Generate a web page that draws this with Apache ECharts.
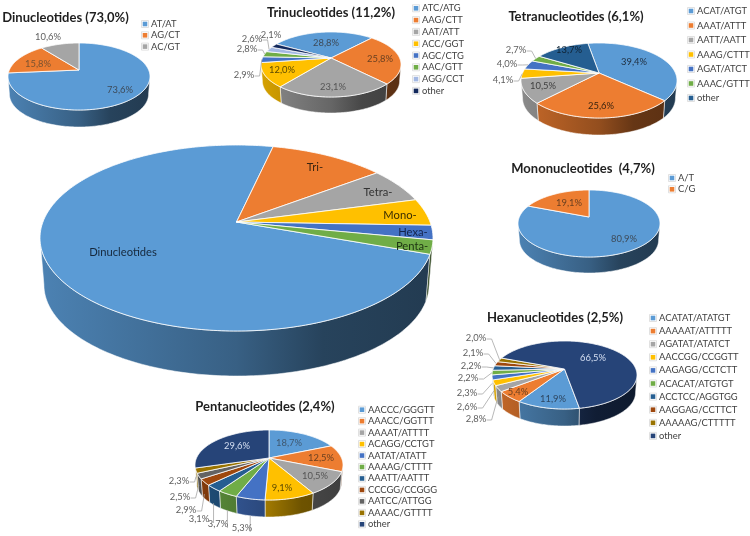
<!DOCTYPE html>
<html><head><meta charset="utf-8">
<script src="https://cdn.jsdelivr.net/npm/echarts@6/dist/echarts.min.js"></script>
<style>html,body{margin:0;padding:0;background:#fff}#c{width:750px;height:536px}</style>
</head><body><div id="c"></div>
<script>
// ---------- data ----------
const overviewNames = ['Dinucleotides','Tri-','Tetra-','Mono-','Hexa-','Penta-'];
const overviewValues = [73.0,11.2,6.1,4.7,2.5,2.4];
const diNames = ['AT/AT','AG/CT','AC/GT'];
const diValues = [73.6,15.8,10.6];
const triNames = ['ATC/ATG','AAG/CTT','AAT/ATT','ACC/GGT','AGC/CTG','AAC/GTT','AGG/CCT','other'];
const triValues = [28.8,25.8,23.1,12.0,2.9,2.8,2.6,2.1];
const tetraNames = ['ACAT/ATGT','AAAT/ATTT','AATT/AATT','AAAG/CTTT','AGAT/ATCT','AAAC/GTTT','other'];
const tetraValues = [39.4,25.6,10.5,4.1,4.0,2.7,13.7];
const monoNames = ['A/T','C/G'];
const monoValues = [80.9,19.1];
const hexaNames = ['ACATAT/ATATGT','AAAAAT/ATTTTT','AGATAT/ATATCT','AACCGG/CCGGTT','AAGAGG/CCTCTT','ACACAT/ATGTGT','ACCTCC/AGGTGG','AAGGAG/CCTTCT','AAAAAG/CTTTTT','other'];
const hexaValues = [11.9,5.4,2.8,2.6,2.3,2.2,2.2,2.1,2.0,66.5];
const pentaNames = ['AACCC/GGGTT','AAACC/GGTTT','AAAAT/ATTTT','ACAGG/CCTGT','AATAT/ATATT','AAAAG/CTTTT','AAATT/AATTT','CCCGG/CCGGG','AATCC/ATTGG','AAAAC/GTTTT','other'];
const pentaValues = [18.7,12.5,10.5,9.1,5.3,3.7,3.1,2.9,2.5,2.3,29.6];

// ---------- styles ----------
const accent = ['#5B9BD5','#ED7D31','#A5A5A5','#FFC000','#4472C4','#70AD47','#255E91','#9E480E','#636363','#997300','#264478'];
const triColors = accent.slice(0,6).concat(['#A3B8E3','#12285C']);
const tetraColors = accent.slice(0,6).concat(['#255E91']);
const hexaColors = accent.slice(0,8).concat(['#997300','#264478']);
const FONT = 'Lato, "Open Sans", sans-serif';
const LBL = '#5f5f5f', LBLD = '#3d4a58', LIGHT = '#d5dff2';

// ---------- layout: ellipse box, apex height, wall bottom, first slice angle ----------
const pies = [
 {names:overviewNames,values:overviewValues,colors:accent,L:40,R:433,T:145,B:331,apex:222,W:376,start:-250.3,fs:11.2,
  labels:[[123,252,'#16283c'],[315,167,'#3a2410'],[378,192,'#333'],[400,215,'#3a2d00'],[413,232,'#14244c'],[412,246,'#1d3312']],raw:true},
 {title:'Dinucleotides (73,0%)',tx:65.5,ty:18,names:diNames,values:diValues,colors:accent,L:8,R:150,T:43,B:110,apex:70,W:127,start:0,
  labels:[[120,90,LBLD],[38,64,'#7a5230'],[48,37,LBL]],lx:145,ly:24,ls:11.3},
 {title:'Trinucleotides (11,2%)',tx:331,ty:13,names:triNames,values:triValues,colors:triColors,L:261,R:401,T:32,B:97,apex:58,W:113,start:-60.7,
  labels:[[326,43,LBLD],[380,59,'#6b4020'],[333,87,'#555'],[282,70,'#5c4a00'],[244,75,LBL,0],[247,49,LBL,0],[252,39,LBL,0],[271,35,LBL]],lx:416,ly:8.3,ls:11.8},
 {title:'Tetranucleotides (6,1%)',tx:576,ty:17,names:tetraNames,values:tetraValues,colors:tetraColors,L:521,R:677,T:43,B:118,apex:73,W:135,start:-10,
  labels:[[634,62,'#1f2d3d'],[601,106,'#3a2410'],[543,86,'#3f3f3f'],[503,80,LBL,0],[507,64,LBL,0],[516,50,LBL,0],[569,50,'#0f2233']],lx:691,ly:11,ls:14.5},
 {title:'Mononucleotides  (4,7%)',tx:583,ty:169,names:monoNames,values:monoValues,colors:accent,L:518,R:660,T:190,B:257,apex:217,W:273,start:0,
  labels:[[624,239,LBLD],[569,203,'#6b4020']],lx:672,ly:178,ls:11.3},
 {title:'Hexanucleotides (2,5%)',tx:555,ty:318,names:hexaNames,values:hexaValues,colors:hexaColors,L:492,R:637,T:341,B:409,apex:369,W:426,start:170,
  labels:[[553,399,'#2d4660'],[518,392,'#6b4020'],[476,419,LBL,8],[467,407,LBL,8],[467,393,LBL,6],[468,378,LBL,0],[471,366,LBL,0],[473,353,LBL,0],[476,338,LBL,0],[593,358,LIGHT]],lx:653,ly:318,ls:13.1},
 {title:'Pentanucleotides (2,4%)',tx:265,ty:407,names:pentaNames,values:pentaValues,colors:accent,L:195,R:343,T:430,B:500,apex:458,W:517,start:0,
  labels:[[289,443,'#3f5870'],[321,458,'#6b4020'],[315,476,'#555'],[282,488,'#5c4a00'],[242,528,LBL,17,'v'],[218,524,LBL,16,'v'],[199,519,LBL,15,'v'],[186,510,LBL,12],[180,497,LBL,9],[179,481,LBL,6],[237,446,LIGHT]],lx:362,ly:409.7,ls:11.46}
];

// ---------- helpers ----------
const rad = d => d*Math.PI/180;
function shade(hex,f){
  const n=parseInt(hex.slice(1),16);
  return 'rgb('+[(n>>16)&255,(n>>8)&255,n&255].map(v=>Math.round(v*f)).join(',')+')';
}
const SHRINK=0.98;
function geom(c){
  const up=c.apex-c.T, dn=c.B-c.apex, p=(dn-up)/(dn+up), b=up*(1+p), hw=(c.R-c.L)/2, a=hw*Math.sqrt(1-p*p);
  const x0=(c.L+c.R)/2, drop=c.W-c.apex-SHRINK*dn;
  const pt=(t,k=1)=>{const ux=Math.sin(rad(t))*k,uy=-Math.cos(rad(t))*k,w=1-p*uy;return [a*ux/w,b*uy/w];};
  return {p,x0,drop,
    top:(t,k)=>{const q=pt(t,k);return [x0+q[0],c.apex+q[1]];},
    low:(t)=>{const q=pt(t);return [x0+SHRINK*q[0],c.apex+drop+SHRINK*q[1]];}};
}
function makeRender(c){
  const g=geom(c), total=c.values.reduce((s,v)=>s+v,0);
  const v0=Math.acos(-g.p)*180/Math.PI, v1=360-v0;
  const grad=col=>new echarts.graphic.LinearGradient(c.L,0,c.R,0,[
    {offset:0,color:shade(col,.84)},{offset:.5,color:shade(col,.62)},{offset:.72,color:shade(col,.43)},{offset:1,color:shade(col,.38)}],true);
  return function(params,api){
    const i=params.dataIndex, val=api.value(0);
    let before=0; for(let j=0;j<i;j++) before+=c.values[j];
    const t0=c.start+before/total*360, t1=t0+val/total*360, mid=(t0+t1)/2, col=c.colors[i];
    const kids=[];
    // outer wall
    const n0=((t0%360)+360)%360, span=t1-t0;
    [[v0,v1],[v0+360,v1+360]].forEach(r=>{
      const a0=Math.max(n0,r[0]), a1=Math.min(n0+span,r[1]);
      if(a1<=a0) return;
      const up=[],lo=[];
      for(let t=a0;;t+=1){const q=Math.min(t,a1);up.push(g.top(q));lo.unshift(g.low(q));if(q>=a1)break;}
      kids.push({type:'polygon',z2:1,shape:{points:up.concat(lo)},style:{fill:grad(col),stroke:'rgba(255,255,255,.75)',lineWidth:.7}});
    });
    // top face
    const pts=[[g.x0,c.apex]];
    for(let t=t0;;t+=1){const q=Math.min(t,t1);pts.push(g.top(q));if(q>=t1)break;}
    kids.push({type:'polygon',z2:2,shape:{points:pts},style:{fill:col,stroke:'rgba(255,255,255,.9)',lineWidth:.9,lineJoin:'round'}});
    // label
    const l=c.labels[i];
    const str=c.raw?c.names[i]:val.toFixed(1).replace('.',',')+'%';
    const fs=c.fs||9.4;
    kids.push({type:'text',z2:5,style:{x:l[0],y:l[1],text:str,font:fs+'px '+FONT,fill:l[2],align:'center',verticalAlign:'middle'}});
    // leader line
    if(l.length>3){
      const a=g.top(mid), end=l[0]+str.length*2.4+1;
      const anchor=[a[0],a[1]+l[3]];
      const path=l[4]==='v'?[[anchor[0],l[1]+4],anchor]:[[end,l[1]+1],[end+5,l[1]+1],anchor];
      kids.push({type:'polyline',z2:4,shape:{points:path},style:{fill:null,stroke:'#a6a6a6',lineWidth:.8}});
    }
    return {type:'group',children:kids};
  };
}

// ---------- legends ----------
const graphicEls=[];
pies.forEach(c=>{
  if(c.lx===undefined) return;
  c.names.forEach((nm,i)=>{
    const y=c.ly+i*c.ls;
    graphicEls.push({type:'rect',silent:true,shape:{x:c.lx-3.5,y:y-3.5,width:7,height:7},style:{fill:'#fff',stroke:'#d9d9d9',lineWidth:.8}});
    graphicEls.push({type:'rect',silent:true,shape:{x:c.lx-2.3,y:y-2.3,width:4.6,height:4.6},style:{fill:c.colors[i]}});
    graphicEls.push({type:'text',silent:true,style:{x:c.lx+6,y:y,text:nm,font:'9.4px '+FONT,fill:'#404040',align:'left',verticalAlign:'middle'}});
  });
});

const chart=echarts.init(document.getElementById('c'),null,{renderer:'canvas'});
chart.setOption({
  animation:false,
  backgroundColor:'#fff',
  title:pies.filter(c=>c.title).map(c=>({text:c.title,left:c.tx,top:c.ty-8,textAlign:'center',padding:0,
    textStyle:{fontFamily:FONT,fontSize:13,fontWeight:'bold',color:'#1f1f1f',lineHeight:16}})),
  graphic:{elements:graphicEls},
  series:pies.map(c=>({type:'custom',coordinateSystem:'none',silent:true,clip:false,
    data:c.values,dimensions:['value'],encode:{value:0},renderItem:makeRender(c)}))
});
</script></body></html>
